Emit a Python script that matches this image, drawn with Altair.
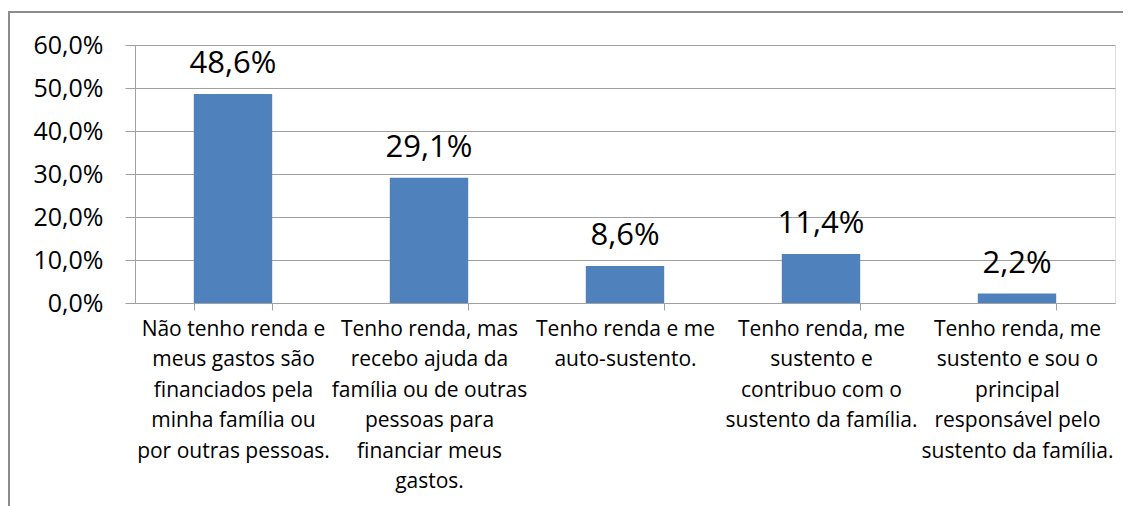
import altair as alt
import pandas as pd

categories = [
    "Não tenho renda e|meus gastos são|financiados pela|minha família ou|por outras pessoas.",
    "Tenho renda, mas|recebo ajuda da|família ou de outras|pessoas para|financiar meus|gastos.",
    "Tenho renda e me|auto-sustento.",
    "Tenho renda, me|sustento e|contribuo com o|sustento da família.",
    "Tenho renda, me|sustento e sou o|principal|responsável pelo|sustento da família.",
]
values = [0.486, 0.291, 0.086, 0.114, 0.022]
y_ticks = [0.0, 0.1, 0.2, 0.3, 0.4, 0.5, 0.6]

df = pd.DataFrame({"cat": categories, "val": values})

FONT = "Open Sans"

x = alt.X(
    "cat:N",
    sort=categories,
    title=None,
    scale=alt.Scale(paddingInner=0.6, paddingOuter=0.3),
    axis=alt.Axis(
        labelExpr="split(datum.label, '|')",
        labelAngle=0,
        labelFont=FONT,
        labelFontSize=21,
        labelLineHeight=30.5,
        labelColor="#000000",
        labelPadding=8,
        tickBand="extent",
        tickSize=7,
        tickColor="#A0A0A0",
        domainColor="#A0A0A0",
        labelLimit=300,
        grid=False,
    ),
)

y = alt.Y(
    "val:Q",
    title=None,
    scale=alt.Scale(domain=[0, 0.6], nice=False),
    axis=alt.Axis(
        values=y_ticks,
        labelExpr="replace(format(datum.value, '.1%'), '.', ',')",
        labelFont=FONT,
        labelFontSize=25,
        labelColor="#000000",
        labelPadding=22,
        tickSize=10,
        tickColor="#A0A0A0",
        domainColor="#A0A0A0",
        gridColor="#A0A0A0",
        grid=True,
    ),
)

bars = alt.Chart(df).mark_bar(color="#4F81BD").encode(x=x, y=y)

labels = (
    alt.Chart(df)
    .transform_calculate(lab="replace(format(datum.val, '.1%'), '.', ',')")
    .mark_text(baseline="alphabetic", dy=-21, font=FONT, fontSize=31, color="#000000")
    .encode(x=alt.X("cat:N", sort=categories), y="val:Q", text="lab:N")
)

frame_df = pd.DataFrame({"a": [0]})
frame_left = alt.Chart(frame_df).mark_rule(color="#8C8C8C", strokeWidth=2).encode(
    x=alt.value(-126), y=alt.value(-33), y2=alt.value(480)
)
frame_top = alt.Chart(frame_df).mark_rule(color="#8C8C8C", strokeWidth=2).encode(
    x=alt.value(-127), x2=alt.value(1010), y=alt.value(-33)
)

chart = (
    alt.layer(bars, labels, frame_left, frame_top)
    .properties(
        width=980,
        height=258,
        autosize=alt.AutoSizeParams(type="none"),
        padding={"left": 127, "top": 37, "right": 8, "bottom": 220},
    )
    .configure_view(stroke=None)
    .configure(background="white")
)

chart.save("out.html", embed_options={"renderer": "svg", "actions": False})
